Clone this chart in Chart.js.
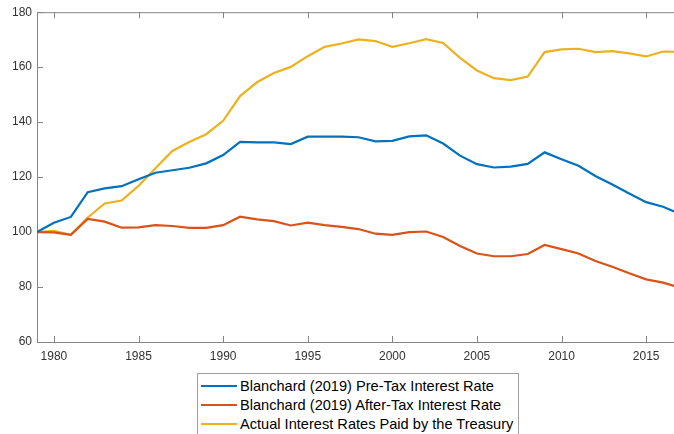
<!DOCTYPE html>
<html>
<head>
<meta charset="utf-8">
<script src="https://cdn.jsdelivr.net/npm/chart.js@4.4.1/dist/chart.umd.min.js"></script>
<style>
  body { margin: 0; background: #fff; width: 674px; height: 434px; overflow: hidden; position: relative; }
  #chart { position: absolute; left: 0; top: 0; }
  #legend {
    position: absolute; left: 197px; top: 373px; width: 322px; height: 70px;
    border: 1px solid #a0a0a0; background: #fff; box-sizing: border-box;
    font-family: "Liberation Sans", Arial, sans-serif; font-size: 14.6px; color: #000;
    padding-top: 2px; white-space: nowrap;
  }
  #legend .row { height: 19px; display: flex; align-items: center; }
  #legend .swatch { width: 36px; height: 2px; margin-left: 3px; margin-right: 3px; }
</style>
</head>
<body>
<canvas id="chart" width="700" height="372"></canvas>
<div id="legend"></div>
<script>
const years = [];
for (let y = 1979; y <= 2017; y++) years.push(y);

const preTax = [100, 103.4, 105.5, 114.5, 115.9, 116.7, 119.2, 121.6, 122.5, 123.4,
  125, 128, 132.8, 132.6, 132.6, 132, 134.7, 134.7, 134.7, 134.5,
  133, 133.2, 134.8, 135.2, 132.2, 127.8, 124.7, 123.5, 123.8, 124.8,
  129, 126.5, 124.1, 120.4, 117.3, 114, 110.9, 109.2, 106.6];

const afterTax = [100, 99.9, 99.0, 104.8, 103.8, 101.6, 101.7, 102.5, 102.2, 101.5,
  101.5, 102.5, 105.6, 104.6, 104, 102.4, 103.4, 102.5, 101.9, 101.1,
  99.4, 99, 100, 100.2, 98.2, 94.9, 92.2, 91.2, 91.2, 92,
  95.3, 93.8, 92.2, 89.5, 87.4, 85, 82.8, 81.6, 79.8];

const treasury = [100, 100.4, 99, 105.3, 110.4, 111.5, 116.8, 123.2, 129.5, 132.8,
  135.6, 140.5, 149.5, 154.5, 157.9, 160.1, 164, 167.4, 168.6, 170.1,
  169.5, 167.4, 168.7, 170.2, 168.8, 163.4, 158.8, 156, 155.3, 156.6,
  165.5, 166.5, 166.7, 165.5, 165.8, 165, 163.9, 165.7, 165.6];

const seriesNames = [
  'Blanchard (2019) Pre-Tax Interest Rate',
  'Blanchard (2019) After-Tax Interest Rate',
  'Actual Interest Rates Paid by the Treasury'
];
const seriesColors = ['#0072BD', '#D95319', '#EDB120'];

const xTicks = [1980, 1985, 1990, 1995, 2000, 2005, 2010, 2015];
const yTicks = [60, 80, 100, 120, 140, 160, 180];

const axisColor = '#858585';
const labelColor = '#333333';
const tickFont = { family: '"Liberation Sans", Arial, sans-serif', size: 12 };

function toPoints(values) {
  return values.map((v, i) => ({ x: years[i], y: v }));
}

// MATLAB-style box with inward tick marks
const frame = {
  id: 'frame',
  beforeDatasetsDraw(chart) {
    const { ctx, chartArea: a, scales: { x, y } } = chart;
    ctx.save();
    ctx.strokeStyle = axisColor;
    ctx.lineWidth = 1;
    ctx.strokeRect(a.left + 0.5, a.top + 0.5, a.right - a.left, a.bottom - a.top);
    ctx.beginPath();
    xTicks.forEach(v => {
      const px = Math.round(x.getPixelForValue(v)) + 0.5;
      ctx.moveTo(px, a.bottom); ctx.lineTo(px, a.bottom - 6);
      ctx.moveTo(px, a.top); ctx.lineTo(px, a.top + 6);
    });
    yTicks.forEach(v => {
      const py = Math.round(y.getPixelForValue(v)) + 0.5;
      ctx.moveTo(a.left, py); ctx.lineTo(a.left + 6, py);
      ctx.moveTo(a.right, py); ctx.lineTo(a.right - 6, py);
    });
    ctx.stroke();
    ctx.restore();
  }
};

const chart = new Chart(document.getElementById('chart'), {
  type: 'line',
  data: {
    datasets: [preTax, afterTax, treasury].map((vals, i) => ({
      label: seriesNames[i],
      data: toPoints(vals),
      borderColor: seriesColors[i],
      backgroundColor: seriesColors[i],
      borderWidth: 2.2,
      pointRadius: 0,
      tension: 0
    }))
  },
  options: {
    responsive: false,
    animation: false,
    events: [],
    layout: { padding: { left: 0, top: 12, right: 20, bottom: 0 } },
    plugins: {
      legend: { display: false },
      tooltip: { enabled: false }
    },
    scales: {
      x: {
        type: 'linear',
        min: 1979,
        max: 2017,
        grid: { display: false, drawTicks: false },
        border: { display: false },
        afterBuildTicks: s => { s.ticks = xTicks.map(v => ({ value: v })); },
        afterFit: s => { s.height = 30; },
        ticks: {
          color: labelColor,
          font: tickFont,
          padding: 7,
          maxRotation: 0,
          autoSkip: false,
          callback: v => String(v)
        }
      },
      y: {
        min: 60,
        max: 180,
        grid: { display: false, drawTicks: false },
        border: { display: false },
        afterBuildTicks: s => { s.ticks = yTicks.map(v => ({ value: v })); },
        afterFit: s => { s.width = 37; },
        ticks: {
          color: labelColor,
          font: tickFont,
          padding: 5,
          callback: v => String(v)
        }
      }
    }
  },
  plugins: [frame]
});

// legend box, one series per row
const legend = document.getElementById('legend');
chart.data.datasets.forEach(ds => {
  const row = document.createElement('div');
  row.className = 'row';
  const sw = document.createElement('span');
  sw.className = 'swatch';
  sw.style.background = ds.borderColor;
  const txt = document.createElement('span');
  txt.textContent = ds.label;
  row.appendChild(sw);
  row.appendChild(txt);
  legend.appendChild(row);
});
</script>
</body>
</html>
